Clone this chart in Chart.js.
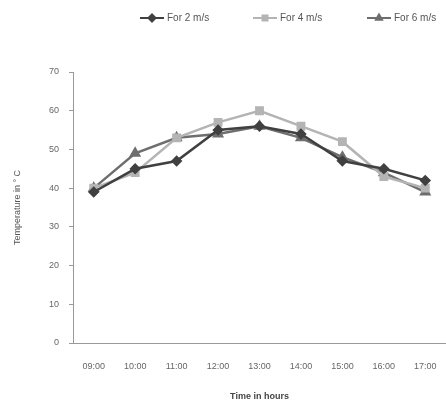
<!DOCTYPE html>
<html>
<head>
<meta charset="utf-8">
<script src="https://cdn.jsdelivr.net/npm/chart.js@4.4.0/dist/chart.umd.min.js"></script>
<style>
  html, body { margin: 0; padding: 0; background: #fff; overflow: hidden; }
  canvas { display: block; }
</style>
</head>
<body>
<canvas id="chart" width="446" height="406"></canvas>
<script>
const hours = ['09:00', '10:00', '11:00', '12:00', '13:00', '14:00', '15:00', '16:00', '17:00'];
const speed2 = [39, 45, 47, 55, 56, 54, 47, 45, 42];
const speed4 = [40, 44, 53, 57, 60, 56, 52, 43, 40];
const speed6 = [40, 49, 53, 54, 56, 53, 48, 44, 39];
const seriesNames = ['For 2 m/s', 'For 4 m/s', 'For 6 m/s'];

const fontFam = '"Liberation Sans", Arial, sans-serif';

// legend drawn by hand: line with marker, then text
const legendPlugin = {
  id: 'lineLegend',
  afterDraw(chart) {
    const c = chart.ctx;
    const starts = [140, 253, 367];
    c.save();
    chart.data.datasets.forEach((ds, i) => {
      const x = starts[i], y = 18;
      c.strokeStyle = ds.borderColor;
      c.lineWidth = 2;
      c.beginPath();
      c.moveTo(x, y);
      c.lineTo(x + 24, y);
      c.stroke();
      Chart.helpers.drawPoint(c, {
        pointStyle: ds.pointStyle, radius: 3.5, borderWidth: 1
      }, x + 12, y);
      c.fillStyle = ds.borderColor;
      c.fill();
      c.fillStyle = '#555';
      c.font = '10px ' + fontFam;
      c.textBaseline = 'middle';
      c.fillText(ds.label, x + 27, y);
    });
    c.restore();
  }
};

new Chart(document.getElementById('chart'), {
  type: 'line',
  data: {
    labels: hours,
    datasets: [
      {
        label: seriesNames[0], data: speed2,
        borderColor: '#404040', backgroundColor: '#404040',
        pointStyle: 'rectRot', pointRadius: 4, borderWidth: 2.5
      },
      {
        label: seriesNames[1], data: speed4,
        borderColor: '#b4b4b4', backgroundColor: '#b4b4b4',
        pointStyle: 'rect', pointRadius: 4.5, borderWidth: 2.5
      },
      {
        label: seriesNames[2], data: speed6,
        borderColor: '#6e6e6e', backgroundColor: '#6e6e6e',
        pointStyle: 'triangle', pointRadius: 4.5, borderWidth: 2.5
      }
    ]
  },
  options: {
    responsive: false,
    animation: false,
    layout: { autoPadding: false, padding: { top: 72, right: 0, left: 0, bottom: 0 } },
    plugins: {
      legend: { display: false },
      tooltip: { enabled: false }
    },
    scales: {
      x: {
        offset: true,
        grid: { display: false },
        border: { color: '#999', width: 1 },
        ticks: { color: '#666', font: { family: fontFam, size: 9 }, padding: 10, maxRotation: 0 },
        title: {
          display: true, text: 'Time in hours', color: '#444',
          font: { family: fontFam, size: 9, weight: 'bold' }, padding: { top: 10 }
        },
        afterFit(scale) { scale.height = 63; scale.paddingRight = 0; scale.paddingLeft = 0; }
      },
      y: {
        min: 0, max: 70,
        ticks: { stepSize: 10, color: '#666', font: { family: fontFam, size: 9 }, padding: 10 },
        grid: { drawOnChartArea: false, tickLength: 4, color: '#999' },
        border: { color: '#999', width: 1 },
        title: {
          display: true, text: 'Temperature in ° C', color: '#555',
          font: { family: fontFam, size: 9 }, padding: { top: 12, bottom: 0 }
        },
        afterFit(scale) { scale.width = 73; scale.paddingTop = 0; scale.paddingBottom = 0; }
      }
    }
  },
  plugins: [legendPlugin]
});
</script>
</body>
</html>
